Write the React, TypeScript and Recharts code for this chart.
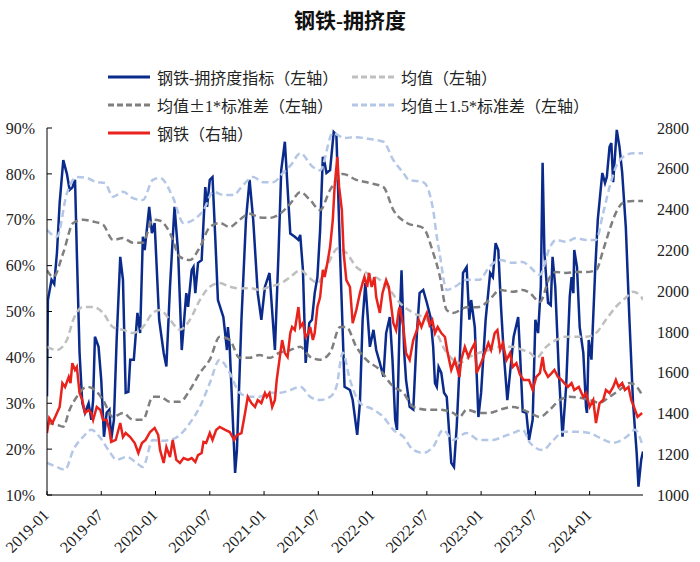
import React from 'react';
import { ComposedChart, Line, XAxis, YAxis } from 'recharts';

// x values are months since 2019-01
const tickMonths = [0, 6, 12, 18, 24, 30, 36, 42, 48, 54, 60];
const tickLabels = [
  '2019-01', '2019-07', '2020-01', '2020-07', '2021-01', '2021-07',
  '2022-01', '2022-07', '2023-01', '2023-07', '2024-01',
];
const leftTicks = [10, 20, 30, 40, 50, 60, 70, 80, 90];
const rightTicks = [1000, 1200, 1400, 1600, 1800, 2000, 2200, 2400, 2600, 2800];

// 钢铁-拥挤度指标 (%)
const crowding: [number, number][] = [
  [0, 31.5], [0.1, 52.5], [0.5, 56.9], [0.8, 56], [1.1, 62.8], [1.4, 73.7], [1.8, 83], [2.2, 80],
  [2.5, 76.5], [2.8, 77], [3.1, 78.7], [3.3, 62.8], [3.6, 41], [3.9, 30.1], [4.2, 27.9], [4.6, 30],
  [4.9, 26.4], [5.1, 30.7], [5.3, 44.5], [5.7, 42.3], [6.0, 35], [6.3, 22.7], [6.6, 27.9], [6.9, 28.6],
  [7.1, 22], [7.4, 26.4], [7.7, 43.8], [8.1, 61.9], [8.4, 56.9], [8.7, 32.3], [9.0, 32.5], [9.2, 39.5],
  [9.6, 39.5], [10.0, 49.7], [10.3, 45.3], [10.6, 66.3], [10.8, 63.4], [11.3, 72.8], [11.6, 67.1],
  [11.9, 69.3], [12.4, 48.2], [12.9, 41], [13.2, 38], [13.6, 55.4], [14.1, 72.8], [14.5, 62.8],
  [14.9, 41.6], [15.4, 54], [15.6, 51], [16.0, 59], [16.2, 59.7], [16.4, 54], [16.7, 60.6], [17.1, 61.2],
  [17.5, 77.1], [17.7, 72.8], [18.0, 78.7], [18.3, 79.3], [18.6, 66.3], [18.9, 52.5], [19.5, 48.8],
  [19.9, 41.6], [20.0, 46.6], [20.2, 42.3], [20.8, 14.8], [21.0, 19.8], [21.5, 48.2], [22.0, 70],
  [22.4, 78.7], [22.8, 70], [23.3, 54], [23.7, 48.2], [24.1, 55.4], [24.6, 58.4], [25.2, 41.6],
  [25.6, 62.8], [25.9, 80.8], [26.3, 87], [26.9, 67], [27.4, 66.3], [27.8, 65.6], [28.0, 66.7],
  [28.3, 59], [28.6, 38.8], [29.0, 47.5], [29.3, 48.2], [29.6, 54], [29.9, 57.5], [30.2, 67.8],
  [30.5, 83.7], [30.7, 82.4], [30.9, 80.2], [31.3, 80.8], [31.7, 89.1], [32.0, 88.5], [32.4, 62.8],
  [32.9, 33.6], [33.5, 32.9], [33.8, 30.7], [34.3, 23.1], [34.6, 30.1], [34.9, 48.2], [35.2, 56.2],
  [35.7, 42.3], [36.1, 46], [36.4, 41.6], [36.8, 38.8], [37.2, 35.8], [37.5, 45.3], [37.9, 48.8],
  [38.2, 39.5], [38.5, 26.4], [38.7, 24.2], [39.0, 48.2], [39.2, 59], [39.5, 41], [39.7, 35.1],
  [40.1, 29.2], [40.5, 28.6], [40.9, 45.3], [41.2, 54], [41.6, 54.7], [42.0, 51.9], [42.4, 48.8],
  [42.7, 42.3], [42.9, 34.4], [43.1, 33.6], [43.3, 37.9], [43.6, 36.6], [43.9, 32.3], [44.2, 31.4],
  [44.5, 22.7], [44.7, 17], [45.0, 16.1], [45.3, 24.9], [45.6, 37.3], [46.0, 58.4], [46.4, 59.7],
  [46.7, 48.2], [46.9, 52.5], [47.3, 46.6], [47.7, 27], [48.0, 32.3], [48.5, 48.2], [49.0, 58.4],
  [49.3, 57.5], [49.6, 64.9], [49.9, 63.4], [50.2, 51], [50.5, 41], [50.9, 30.7], [51.2, 36.6],
  [51.6, 44.5], [52.1, 48.8], [52.3, 41], [52.6, 28.2], [53.0, 27.9], [53.3, 22], [53.7, 26.4],
  [54.0, 48.2], [54.3, 45.3], [54.6, 55.4], [54.8, 82.4], [55.0, 62.8], [55.4, 51.9], [55.7, 51.4],
  [55.9, 61.9], [56.2, 55.4], [56.6, 36.6], [57.0, 22.7], [57.4, 33.6], [57.8, 53.2], [58.0, 57.5],
  [58.2, 54], [58.3, 63.4], [58.6, 59.7], [58.9, 46.6], [59.3, 41], [59.6, 29.2], [59.7, 27.9],
  [59.9, 43.8], [60.2, 39.5], [60.6, 58.4], [60.9, 70], [61.4, 80.2], [61.7, 78], [61.9, 79.3],
  [62.2, 85.9], [62.4, 86.7], [62.6, 78.2], [63.0, 89.6], [63.3, 85.9], [63.6, 80.2], [64.0, 68.4],
  [64.4, 48.2], [64.8, 30.1], [65.2, 19.2], [65.4, 11.8], [65.7, 17.7], [65.9, 19.5],
];

// 钢铁 index (right axis)
const steel: [number, number][] = [
  [0, 1304], [0.25, 1377], [0.6, 1353], [1.1, 1402], [1.4, 1432], [1.7, 1549], [2.0, 1530], [2.4, 1579],
  [2.6, 1549], [2.8, 1647], [3.1, 1613], [3.3, 1628], [3.6, 1500], [3.9, 1466], [4.2, 1402], [4.6, 1417],
  [4.9, 1402], [5.1, 1368], [5.5, 1432], [5.9, 1417], [6.2, 1368], [6.6, 1368], [6.9, 1319], [7.1, 1260],
  [7.6, 1270], [8.1, 1353], [8.4, 1284], [8.7, 1304], [9.2, 1284], [9.7, 1255], [10.1, 1206], [10.5, 1255],
  [10.9, 1270], [11.4, 1309], [11.9, 1329], [12.3, 1294], [12.5, 1221], [12.9, 1157], [13.2, 1235],
  [13.6, 1186], [13.9, 1270], [14.3, 1172], [14.7, 1157], [15.1, 1181], [15.6, 1172], [16.0, 1181],
  [16.4, 1162], [16.7, 1196], [17.1, 1206], [17.3, 1260], [17.6, 1255], [18.0, 1304], [18.3, 1270],
  [18.7, 1319], [19.1, 1334], [19.7, 1319], [20.2, 1309], [20.7, 1270], [21.0, 1294], [21.5, 1304],
  [21.9, 1402], [22.2, 1481], [22.6, 1451], [23.0, 1432], [23.3, 1466], [23.7, 1451], [24.1, 1500],
  [24.3, 1481], [24.6, 1500], [24.9, 1432], [25.2, 1466], [25.4, 1564], [25.7, 1662], [26.0, 1760],
  [26.3, 1696], [26.6, 1677], [26.9, 1794], [27.1, 1824], [27.4, 1809], [27.8, 1922], [28.0, 1824],
  [28.3, 1843], [28.6, 1775], [28.9, 1794], [29.1, 1824], [29.4, 1760], [29.6, 1794], [29.9, 1922],
  [30.2, 1971], [30.5, 2104], [30.7, 2069], [31.0, 2138], [31.3, 2216], [31.6, 2349], [31.8, 2511],
  [32.1, 2658], [32.3, 2511], [32.6, 2398], [32.8, 2187], [33.1, 2054], [33.5, 2020], [33.8, 1843],
  [34.2, 1907], [34.6, 1991], [34.9, 2040], [35.1, 2069], [35.4, 2020], [35.6, 2089], [35.9, 2020],
  [36.2, 2069], [36.4, 1971], [36.8, 1893], [37.1, 1991], [37.5, 2054], [37.8, 2020], [38.3, 1843],
  [38.6, 1809], [38.9, 1907], [39.0, 1922], [39.4, 1824], [39.7, 1696], [40.1, 1662], [40.5, 1760],
  [40.9, 1809], [41.1, 1858], [41.4, 1824], [41.8, 1873], [42.0, 1893], [42.3, 1834], [42.6, 1858],
  [42.9, 1794], [43.2, 1824], [43.6, 1794], [44.0, 1775], [44.3, 1696], [44.7, 1613], [45.1, 1662],
  [45.6, 1579], [45.8, 1662], [46.2, 1726], [46.6, 1677], [46.9, 1711], [47.3, 1745], [47.5, 1598],
  [48.0, 1647], [48.4, 1696], [48.8, 1745], [49.1, 1711], [49.5, 1794], [49.8, 1809], [50.1, 1711],
  [50.4, 1745], [50.8, 1662], [51.2, 1696], [51.5, 1628], [51.9, 1647], [52.3, 1590], [52.7, 1564],
  [53.3, 1564], [53.7, 1515], [54.1, 1579], [54.5, 1598], [54.8, 1677], [55.0, 1613], [55.4, 1579],
  [55.8, 1598], [56.1, 1613], [56.5, 1579], [56.9, 1564], [57.2, 1549], [57.6, 1530], [58.0, 1549],
  [58.3, 1515], [58.8, 1530], [59.3, 1481], [59.6, 1500], [60.0, 1432], [60.4, 1466], [60.7, 1353],
  [61.1, 1451], [61.5, 1466], [61.8, 1515], [62.2, 1500], [62.6, 1530], [62.9, 1564], [63.2, 1530],
  [63.6, 1549], [63.9, 1515], [64.3, 1530], [64.6, 1466], [64.9, 1432], [65.3, 1383], [65.8, 1402],
];

const mean: [number, number][] = [
  [0, 42.3], [1.1, 41.6], [2.2, 43.8], [2.9, 48.2], [4.0, 51], [5.1, 51], [6.2, 49.7], [7.3, 46.6],
  [8.4, 46], [9.5, 45.3], [10.6, 46.6], [11.7, 49.7], [12.5, 50.3], [13.6, 48.2], [14.7, 46],
  [15.8, 48.2], [16.9, 52.5], [18.0, 55.4], [19.1, 56.2], [20.2, 55.4], [21.3, 55], [22.4, 55.1],
  [23.5, 54.7], [24.6, 55.4], [25.7, 56], [26.9, 57.5], [28.0, 59], [29.1, 57.2], [29.9, 56.2],
  [30.9, 59.7], [32.2, 63.8], [33.1, 62.8], [34.2, 59.7], [35.3, 58.4], [36.8, 56.9], [37.9, 54.7],
  [39.0, 51.9], [40.5, 49.7], [42.0, 48.2], [43.1, 45.3], [43.8, 42.3], [44.9, 39.5], [45.6, 38.8],
  [46.7, 40.1], [47.8, 41], [48.9, 41.6], [50.1, 42.3], [51.5, 42.3], [52.6, 41.6], [53.4, 41],
  [54.1, 39.9], [55.2, 42.3], [56.3, 43.8], [57.4, 44.5], [58.5, 44.5], [59.6, 44.5], [60.7, 45.3],
  [61.8, 48.2], [62.9, 51], [64.1, 53.2], [64.8, 54.3], [65.7, 53.2], [65.9, 52.5],
];

const upper1: [number, number][] = [
  [0, 59], [0.7, 57.5], [1.8, 62.8], [2.9, 69.3], [4.0, 70], [5.1, 69.6], [6.2, 68.9], [7.3, 65.6],
  [8.4, 66], [9.5, 65], [10.6, 65], [11.7, 70], [12.5, 69.8], [13.6, 67.1], [14.7, 61.9], [15.8, 61.2],
  [16.9, 64], [18.0, 68.4], [19.1, 69.3], [20.2, 68.4], [21.3, 70], [22.4, 71.3], [23.5, 70.5],
  [24.6, 70.4], [25.7, 71.2], [26.9, 73.5], [28.0, 76], [29.1, 74.3], [30.2, 72.1], [31.3, 76.5],
  [32.7, 80], [34.2, 78.7], [35.7, 78], [37.2, 77.1], [38.3, 72.1], [39.8, 69.3], [41.6, 68.2],
  [42.7, 62.8], [43.4, 58], [44.2, 50.3], [44.9, 49.7], [46.4, 50.9], [47.8, 51], [48.9, 52.5],
  [50.1, 54.7], [51.5, 54.3], [52.6, 54.7], [53.4, 54], [54.5, 52.1], [55.6, 57.5], [56.3, 58.6],
  [57.4, 58.4], [58.5, 58.6], [59.6, 58.6], [60.7, 59], [61.5, 63.4], [62.2, 67.8], [62.9, 71.5],
  [63.7, 73.7], [64.8, 74.1], [65.9, 74.1],
];

const lower1: [number, number][] = [
  [0, 25.7], [1.1, 25.3], [1.8, 24.9], [2.5, 28.6], [3.3, 31.4], [4.4, 33.6], [5.3, 32.9], [6.2, 30.7],
  [7.3, 27], [8.4, 27.9], [9.5, 26.4], [10.6, 26.4], [11.7, 31.4], [12.5, 31.4], [13.6, 30.3],
  [14.7, 30.3], [15.8, 32.9], [16.9, 36.6], [18.0, 39.5], [19.1, 44.5], [20.2, 43.8], [21.3, 39.9],
  [22.4, 39.9], [23.5, 40.5], [24.6, 39.9], [25.7, 41], [26.9, 41.6], [28.0, 42.3], [29.1, 40.1],
  [30.2, 39.5], [31.3, 41], [32.4, 46.6], [33.1, 46.6], [34.2, 42.3], [35.3, 39.5], [36.8, 37.3],
  [38.3, 33.6], [39.4, 32.3], [40.5, 29.2], [42.0, 28.6], [43.4, 28.6], [44.9, 27.9], [45.6, 27],
  [46.4, 28.6], [47.8, 27.9], [48.9, 27.9], [50.1, 28.6], [51.5, 29.2], [52.6, 28.6], [53.4, 27.9],
  [54.5, 27], [55.6, 28.6], [56.7, 30.7], [57.8, 31.4], [58.9, 31.2], [60.0, 30.7], [61.1, 30.1],
  [62.2, 31.4], [63.3, 32.9], [64.4, 34.4], [65.2, 33.6], [65.9, 31.4],
];

const upper15: [number, number][] = [
  [0, 67.8], [1.1, 66.3], [2.2, 75.8], [3.3, 79.3], [4.4, 79.1], [5.5, 78.2], [6.4, 78], [7.3, 75],
  [8.4, 76.1], [9.5, 74.7], [10.6, 74.3], [11.7, 78.7], [12.5, 79.1], [13.9, 75], [15.1, 69.3],
  [16.2, 70], [17.3, 72.1], [18.4, 76.1], [19.5, 75.4], [20.6, 75.4], [21.7, 77.6], [22.8, 79.3],
  [23.9, 78.2], [25.0, 78.2], [26.1, 80.2], [27.0, 82], [28.0, 84.5], [29.4, 81.5], [30.2, 80.8],
  [31.6, 88.9], [32.9, 87.8], [34.0, 88], [35.7, 87.6], [37.2, 87], [38.3, 83], [39.4, 80.2],
  [40.0, 78.7], [41.6, 78.2], [42.7, 72.1], [43.1, 66.3], [43.4, 62.8], [44.2, 54.7], [45.1, 55.4],
  [46.4, 56.9], [47.8, 56.9], [48.9, 59.7], [50.1, 61.2], [51.5, 60.6], [52.6, 60.8], [53.4, 59.7],
  [54.5, 58], [55.6, 64], [56.3, 65.6], [57.4, 65.2], [58.5, 66], [59.6, 65.6], [60.7, 65.6],
  [61.5, 71.5], [62.2, 77.1], [62.9, 81.5], [63.7, 83.7], [64.8, 84.5], [65.9, 84.5],
];

const lower15: [number, number][] = [
  [0, 17], [1.1, 16.1], [2.0, 15.5], [2.9, 19.8], [4.0, 22.7], [4.9, 24.2], [5.8, 22.7], [6.8, 19.8],
  [7.7, 17.7], [8.8, 18.3], [9.9, 17], [10.6, 16.1], [11.7, 22], [12.5, 21.8], [13.6, 22], [14.7, 23.1],
  [15.8, 25.7], [16.9, 29.2], [18.0, 34.4], [19.1, 39.5], [20.2, 36.6], [21.3, 32.3], [22.4, 31.4],
  [23.5, 31.4], [24.6, 32.3], [25.8, 32.3], [26.9, 32.9], [28.0, 33.6], [29.1, 31.4], [30.2, 30.7],
  [31.3, 31.4], [32.0, 33.6], [32.7, 41], [33.5, 35.1], [34.6, 30.1], [36.1, 28.6], [37.2, 27],
  [38.3, 24.2], [39.4, 22.7], [40.5, 19.8], [41.6, 19.2], [42.7, 20.5], [43.8, 24.2], [44.9, 22],
  [46.4, 23.5], [47.8, 22], [49.3, 22], [50.4, 22.7], [51.5, 23.5], [52.6, 24.2], [53.4, 21.4],
  [54.8, 19.8], [56.0, 22], [57.1, 23.8], [58.5, 23.8], [60.0, 23.5], [61.1, 22.5], [62.6, 21.4],
  [64.1, 22.7], [65.0, 24.2], [65.9, 20.5],
];

const BLUE = '#0b2b8c';
const RED = '#e8231c';
const MEAN_GRAY = '#bfbfbf';
const DARK_GRAY = '#7f7f7f';
const LIGHT_BLUE = '#b4c7e7';
const DASH = '7 4';

const FONT = '"Liberation Serif", "Noto Sans CJK SC", serif';
const CJK = '"Noto Sans CJK SC", sans-serif';

const legendItems = [
  { label: '钢铁-拥挤度指标（左轴）', color: BLUE, dashed: false },
  { label: '均值（左轴）', color: MEAN_GRAY, dashed: true },
  { label: '均值±1*标准差（左轴）', color: DARK_GRAY, dashed: true },
  { label: '均值±1.5*标准差（左轴）', color: LIGHT_BLUE, dashed: true },
  { label: '钢铁（右轴）', color: RED, dashed: false },
];

const toRows = (pts: [number, number][]) => pts.map(([m, v]) => ({ m, v }));

const XTick = (props: any) => {
  const { x, y, payload } = props;
  const idx = tickMonths.indexOf(payload.value);
  const ax = x + 3;
  return (
    <text
      x={ax}
      y={y}
      textAnchor="end"
      transform={`rotate(-45, ${ax}, ${y})`}
      fontSize={16}
      fontFamily={FONT}
      fill="#222"
    >
      {tickLabels[idx]}
    </text>
  );
};

// the ± sign is drawn with the CJK font so it gets the wide glyph
function LegendLabel({ text }: { text: string }) {
  const parts = text.split('±');
  return (
    <span style={{ fontFamily: FONT, fontSize: 16, color: '#222' }}>
      {parts.map((p, i) => (
        <React.Fragment key={i}>
          {i > 0 && <span style={{ fontFamily: CJK }}>±</span>}
          {p}
        </React.Fragment>
      ))}
    </span>
  );
}

function ChartLegend() {
  return (
    <div style={{ position: 'absolute', left: 108, top: 63, width: 540 }}>
      {legendItems.map((item, i) => (
        <div
          key={item.label}
          style={{
            position: 'absolute',
            left: i % 2 === 0 ? 0 : 244,
            top: Math.floor(i / 2) * 28,
            display: 'flex',
            alignItems: 'center',
            whiteSpace: 'nowrap',
            height: 28,
          }}
        >
          <svg width={44} height={6} style={{ marginRight: 5 }}>
            <line
              x1={0}
              y1={3}
              x2={42}
              y2={3}
              stroke={item.color}
              strokeWidth={3}
              strokeDasharray={item.dashed ? '6 3' : undefined}
            />
          </svg>
          <LegendLabel text={item.label} />
        </div>
      ))}
    </div>
  );
}

export default function App() {
  const dashedSeries = [
    { key: 'mean', data: mean, color: MEAN_GRAY },
    { key: 'upper1', data: upper1, color: DARK_GRAY },
    { key: 'lower1', data: lower1, color: DARK_GRAY },
    { key: 'upper15', data: upper15, color: LIGHT_BLUE },
    { key: 'lower15', data: lower15, color: LIGHT_BLUE },
  ];

  return (
    <div style={{ position: 'absolute', left: 0, top: 0, width: 700, height: 562, background: '#fff' }}>
      <div
        style={{
          position: 'absolute',
          top: 4,
          width: 700,
          textAlign: 'center',
          fontFamily: FONT,
          fontWeight: 'bold',
          fontSize: 21,
          color: '#111',
        }}
      >
        钢铁-拥挤度
      </div>
      <ComposedChart width={700} height={562} margin={{ top: 128, right: 0, bottom: 7, left: 0 }}>
        <XAxis
          dataKey="m"
          type="number"
          domain={[0, 65.9]}
          ticks={tickMonths}
          interval={0}
          height={60}
          tickSize={-4}
          tickMargin={25}
          tick={<XTick />}
          axisLine={{ stroke: '#000' }}
          tickLine={{ stroke: '#000' }}
          allowDataOverflow
        />
        <YAxis
          yAxisId="left"
          orientation="left"
          domain={[10, 90]}
          ticks={leftTicks}
          interval={0}
          width={47}
          tickSize={-5}
          tickMargin={17}
          tickFormatter={(v: number) => `${v}%`}
          tick={{ fontSize: 16, fontFamily: FONT, fill: '#222' }}
          axisLine={{ stroke: '#000' }}
          tickLine={{ stroke: '#000' }}
        />
        <YAxis
          yAxisId="right"
          orientation="right"
          domain={[1000, 2800]}
          ticks={rightTicks}
          interval={0}
          width={57}
          tickSize={0}
          tickMargin={14}
          tick={{ fontSize: 16, fontFamily: FONT, fill: '#222', textAnchor: 'start' }}
          axisLine={false}
          tickLine={false}
        />
        <Line
          yAxisId="left"
          data={toRows(crowding)}
          dataKey="v"
          type="linear"
          stroke={BLUE}
          strokeWidth={2.5}
          dot={false}
          isAnimationActive={false}
        />
        {dashedSeries.map((s) => (
          <Line
            key={s.key}
            yAxisId="left"
            data={toRows(s.data)}
            dataKey="v"
            type="monotone"
            stroke={s.color}
            strokeWidth={2.5}
            strokeDasharray={DASH}
            dot={false}
            isAnimationActive={false}
          />
        ))}
        <Line
          yAxisId="right"
          data={toRows(steel)}
          dataKey="v"
          type="linear"
          stroke={RED}
          strokeWidth={2.5}
          dot={false}
          isAnimationActive={false}
        />
      </ComposedChart>
      <ChartLegend />
    </div>
  );
}
